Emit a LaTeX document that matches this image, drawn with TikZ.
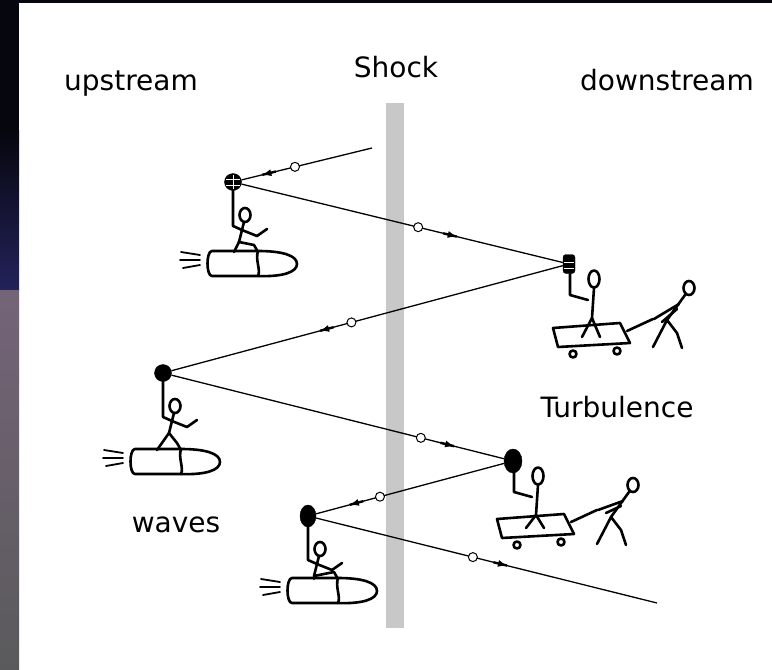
\documentclass[tikz,border=0pt]{standalone}
\usepackage{fontspec}
\newfontfamily\labelfont{DejaVu Sans}
\usetikzlibrary{arrows.meta,decorations.markings,shapes.geometric}

\definecolor{spacetop}{HTML}{06060E}
\definecolor{spacemid}{HTML}{23225A}
\definecolor{spacelow}{HTML}{746478}
\definecolor{spacebot}{HTML}{5A5A5C}
\definecolor{shockgray}{RGB}{200,200,200}

\tikzset{
  sketch/.style={line width=2.6pt, line cap=round, line join=round},
  label/.style={font=\labelfont\fontsize{28}{32}\selectfont, anchor=base, inner sep=0pt},
  track/.style={line width=1.3pt},
  blob/.style={fill=black, draw=black, inner sep=0pt},
  kink/.style={circle, draw=black, fill=white, line width=1pt, minimum size=9pt, inner sep=0pt},
  dir/.style={postaction={decorate, decoration={markings,
      mark=at position #1 with {\draw[line width=2.4pt] (-14pt,0) -- (0,0);
                                \arrow[line width=1pt]{Latex[length=9pt,width=7pt]}}}}},
  % a stick figure riding a rocket, holding the scatterer at (0,0);
  % the two arguments move the rocket relative to the rider
  pics/rider/.style n args={2}{code={
    \draw[sketch] (0,8) -- (0,44) -- (9,48);
    \draw[sketch] (12,33) ellipse[x radius=5.5, y radius=7];
    \draw[sketch] (11,40) -- (6,60);
    \draw[sketch] (9,48) -- (24,54) -- (34,47);
    \draw[sketch] (6,60) -- ([shift={(#1,#2)}]1,70);
    \draw[sketch] (6,60) -- ([shift={(#1,#2)}]21,63) -- ([shift={(#1,#2)}]25,70);
    \begin{scope}[shift={(#1,#2)}]
      \draw[sketch] (25,69) -- (-21,69) .. controls (-27,69) and (-27,94) .. (-21,94)
                    -- (25,94) .. controls (50,95) and (64,90) .. (64,82)
                    .. controls (64,73) and (48,69) .. (25,69);
      \draw[sketch] (25,69) .. controls (22,78) and (28,88) .. (25,94);
      \draw[line width=1.8pt, line cap=round]
        (-33,73) -- (-52,70) (-33,78) -- (-53,78) (-33,83) -- (-50,86);
    \end{scope}
  }},
  % a stick figure on a cart holding the scatterer at (0,0), pulled by another;
  % the argument moves the cart and the feet up or down
  pics/cartteam/.style={code={
    \draw[sketch] (1,10) -- (1,31) -- (19,36);
    \draw[sketch] (25,15) ellipse[x radius=5.5, y radius=8.5];
    \draw[sketch] (25,24) -- (23,54);
    \draw[sketch] ([yshift=-#1pt]13,73) -- (23,54) -- ([yshift=-#1pt]31,73);
    \begin{scope}[shift={(0,#1)}]
      \draw[sketch] (-16,64) -- (51,59) -- (61,79) -- (-11,83) -- cycle;
      \draw[sketch] (4,90) circle[radius=3.5];
      \draw[sketch] (48,87) circle[radius=3.5];
      \draw[sketch] (58,67) -- (84,55);
    \end{scope}
    \draw[sketch] (120,24) ellipse[x radius=5.5, y radius=7];
    \draw[sketch] (116,31) -- (98,56);
    \draw[sketch] (84,83) -- (98,56) -- (108,69) -- (113,84);
    \draw[sketch] (110,40) -- ([yshift=-#1pt]85,55);
    \draw[sketch] (108,45) -- ([yshift=-#1pt]93,58);
  }}
}

\begin{document}
\begin{tikzpicture}[x=1pt, y=-1pt]
\useasboundingbox (0,0) rectangle (772,670);

% backdrop: white sheet framed by a dark strip
\fill[white] (0,0) rectangle (772,670);
\fill[spacetop] (0,0) rectangle (19,130);
\shade[top color=spacetop, bottom color=spacemid] (0,130) rectangle (19,290);
\shade[top color=spacelow, bottom color=spacebot] (0,290) rectangle (19,670);
\fill[spacetop] (19,0) rectangle (772,3);

% the shock front
\fill[shockgray] (386,103) rectangle (404,628);
\node[label] (shock) at (396,77) {Shock};

% region labels
\node[label] (up)   at (131,90)  {upstream};
\node[label] (down) at (667,90)  {downstream};
\node[label] (turb) at (617,417) {Turbulence};
\node[label] (wav)  at (176,532) {waves};

% scatterers
\node[blob, circle, minimum size=17pt] (s1) at (233,182) {};
\draw[white, line width=0.8pt] (226,179) -- (240,179) (226,185) -- (240,185) (233,175) -- (233,189);
\node[blob, rectangle, rounded corners=3pt, minimum width=12pt, minimum height=19pt] (s2) at (569,264) {};
\draw[white, line width=0.8pt] (564,262) -- (574,262) (564,268) -- (574,268);
\node[blob, circle, minimum size=17pt] (s3) at (163,373) {};
\node[blob, ellipse, minimum width=18pt, minimum height=24pt] (s4) at (513,461) {};
\node[blob, ellipse, minimum width=16pt, minimum height=22pt] (s5) at (308,516) {};

% figures carrying the scatterers
\pic at (s1.center) {rider={0}{0}};
\pic at (s3.center) {rider={-7}{7}};
\pic at (s5.center) {rider={5}{-7}};
\pic at (s2.center) {cartteam=0};
\pic at (s4.center) {cartteam=-6};

% ends of the particle track
\coordinate (in)  at (372,148);
\coordinate (out) at (657,603);

% particle track bouncing across the shock
\draw[track, dir=0.84] (in) -- node[kink, pos=0.59] {} (s1);
\draw[track, dir=0.67] (s1) -- node[kink, pos=0.55] {} (s2);
\draw[track, dir=0.62] (s2) -- node[kink, pos=0.54] {} (s3);
\draw[track, dir=0.85] (s3) -- node[kink, pos=0.75] {} (s4);
\draw[track, dir=0.82] (s4) -- node[kink, pos=0.66] {} (s5);
\draw[track, dir=0.56] (s5) -- node[kink, pos=0.46] {} (out);
\end{tikzpicture}
\end{document}
